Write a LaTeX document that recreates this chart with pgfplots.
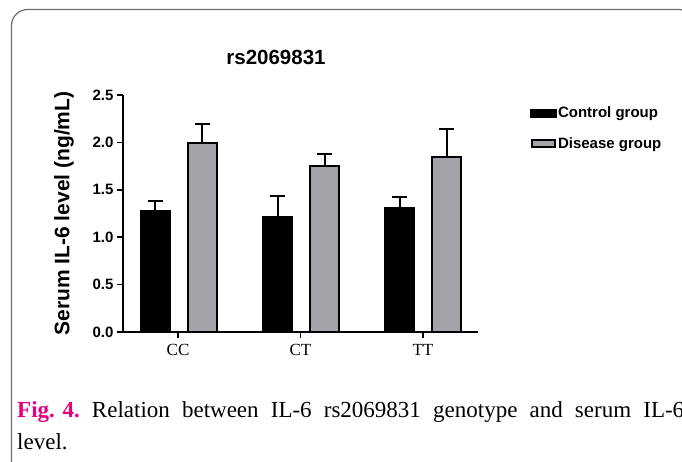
\documentclass[border=0pt]{standalone}
\usepackage{fontspec}
\setmainfont{Liberation Serif}
\setsansfont{Liberation Sans}
\usepackage{pgfplots}
\pgfplotsset{compat=1.18}
\definecolor{diseasegray}{HTML}{A2A2A8}
\definecolor{figmagenta}{HTML}{E5007D}
\definecolor{boxgray}{HTML}{6E6E6E}

\begin{document}
\begin{tikzpicture}
\useasboundingbox (0,0) rectangle (682pt,-461pt);
\clip (0,0) rectangle (682pt,-461pt);
\draw[boxgray, line width=1.2pt, rounded corners=16pt] (11.5pt,-480pt) rectangle (695pt,-9.5pt);
\begin{axis}[
  at={(123pt,-332pt)}, anchor=south west,
  scale only axis, width=355pt, height=237pt,
  xmin=-0.45, xmax=2.45, ymin=0, ymax=2.5,
  ybar,
  axis x line*=bottom, axis y line*=left,
  axis line style={line width=1.6pt, black},
  xtick={0,1,2}, xticklabels={CC,CT,TT},
  ytick={0,0.5,1,1.5,2,2.5},
  minor tick num=0,
  tick align=outside, major tick length=6pt,
  tick style={line width=1.6pt, black},
  yticklabel style={/pgf/number format/fixed, /pgf/number format/fixed zerofill,
    /pgf/number format/precision=1, /pgf/number format/assume math mode=true,
    font=\sffamily\bfseries\fontsize{15pt}{15pt}\selectfont},
  xticklabel style={font=\rmfamily\fontsize{17pt}{17pt}\selectfont, yshift=-3pt},
  ylabel={Serum IL-6 level (ng/mL)},
  ylabel style={at={(axis description cs:-0.166,0.5)}, anchor=center,
    font=\sffamily\bfseries\fontsize{21pt}{21pt}\selectfont},
  title={rs2069831},
  title style={at={(axis description cs:0.431,1.132)}, anchor=center,
    font=\sffamily\bfseries\fontsize{20.5pt}{20.5pt}\selectfont},
  legend style={at={(1.146,0.955)}, anchor=north west, draw=none, fill=none,
    inner sep=0pt, row sep=16pt,
    font=\sffamily\bfseries\fontsize{15pt}{15pt}\selectfont,
    nodes={inner sep=1pt}},
  legend cell align=left,
]
\addplot[fill=black, draw=black, line width=2pt, bar width=29pt, bar shift=-23pt,
  legend image code/.code={\fill[black] (0pt,-3.5pt) rectangle (25pt,3.5pt);},
  error bars/.cd, y dir=plus, y explicit, error mark=-,
  error bar style={line width=2pt, black},
  error mark options={rotate=90, line width=2pt, mark size=7.5pt, black},
  ] coordinates {
  (0,1.280) +- (0,0.100)
  (1,1.215) +- (0,0.220)
  (2,1.305) +- (0,0.115)
};
\addlegendentry{Control group}
\addplot[fill=diseasegray, draw=black, line width=2pt, bar width=29pt, bar shift=24pt,
  legend image code/.code={\draw[black, line width=2pt, fill=diseasegray] (1pt,-3.5pt) rectangle (24pt,3.5pt);},
  error bars/.cd, y dir=plus, y explicit, error mark=-,
  error bar style={line width=2pt, black},
  error mark options={rotate=90, line width=2pt, mark size=7.5pt, black},
  ] coordinates {
  (0,1.990) +- (0,0.200)
  (1,1.755) +- (0,0.125)
  (2,1.850) +- (0,0.290)
};
\addlegendentry{Disease group}
\end{axis}
\node[anchor=base west, inner sep=0pt, font=\rmfamily\fontsize{23pt}{23pt}\selectfont]
  at (17pt,-417pt) {\makebox[667pt][s]{\textcolor{figmagenta}{\bfseries\mbox{Fig. 4.}} Relation between IL-6 rs2069831 genotype and serum IL-6}};
\node[anchor=base west, inner sep=0pt, font=\rmfamily\fontsize{23pt}{23pt}\selectfont]
  at (17pt,-449pt) {level.};
\end{tikzpicture}
\end{document}
